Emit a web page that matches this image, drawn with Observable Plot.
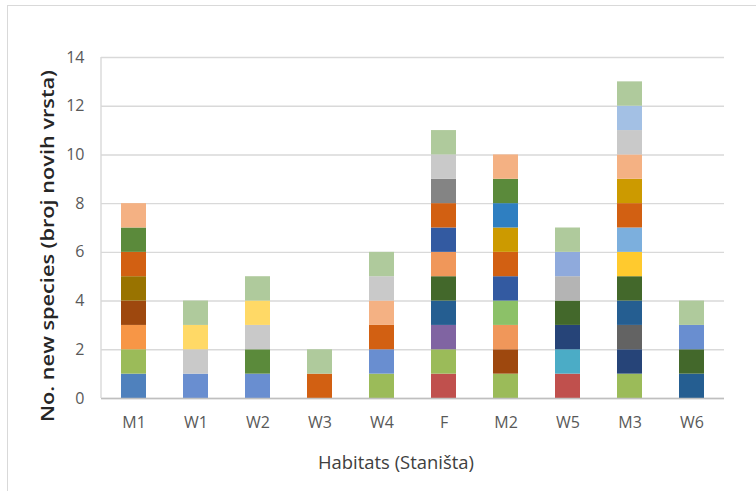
<!DOCTYPE html>
<html>
<head>
<meta charset="utf-8">
<script src="https://cdn.jsdelivr.net/npm/d3@7"></script>
<script src="https://cdn.jsdelivr.net/npm/@observablehq/plot@0.6"></script>
<style>
  html, body { margin: 0; padding: 0; background: #fff; overflow: hidden; }
  #wrap { position: relative; width: 756px; height: 491px; }
  #border { position: absolute; left: 7px; top: 5px; width: 820px; height: 600px; border: 1.5px solid #d9d9d9; box-sizing: border-box; }
  #chart { position: absolute; left: 0; top: 0; }
</style>
</head>
<body>
<div id="wrap"><div id="border"></div><div id="chart"></div></div>
<script>
// Data
const habitats = ["M1", "W1", "W2", "W3", "W4", "F", "M2", "W5", "M3", "W6"];
const newSpecies = [8, 4, 5, 2, 6, 11, 10, 7, 13, 4];
const yTicks = [0, 2, 4, 6, 8, 10, 12, 14];
const xTitle = "Habitats (Staništa)";
const yTitle = "No. new species (broj novih vrsta)";

// Style: segment colours (bottom to top) for each habitat
const segmentColors = [
  ["#4F81BD", "#9BBB59", "#F79646", "#9E480E", "#997300", "#D26012", "#5B8A3B", "#F4B183"],
  ["#698ED0", "#C9C9C9", "#FFD966", "#AFCA9C"],
  ["#698ED0", "#5B8A3B", "#C9C9C9", "#FFD966", "#AFCA9C"],
  ["#D26012", "#AFCA9C"],
  ["#9BBB59", "#698ED0", "#D26012", "#F4B183", "#C9C9C9", "#AFCA9C"],
  ["#C0504D", "#9BBB59", "#8064A2", "#255E91", "#43682B", "#F0975A", "#335AA1", "#D26012", "#848484", "#C9C9C9", "#AFCA9C"],
  ["#9BBB59", "#9E480E", "#F0975A", "#8CC168", "#335AA1", "#D26012", "#CC9A00", "#2F7FC1", "#5B8A3B", "#F4B183"],
  ["#C0504D", "#4BACC6", "#264478", "#43682B", "#B4B4B4", "#8FAADC", "#AFCA9C"],
  ["#9BBB59", "#264478", "#636363", "#255E91", "#43682B", "#FFCA2E", "#7CAFDD", "#D26012", "#CC9A00", "#F4B183", "#C9C9C9", "#A3C0E4", "#AFCA9C"],
  ["#255E91", "#43682B", "#698ED0", "#AFCA9C"]
];

// Each new species is one unit segment
const segments = [];
habitats.forEach((h, i) => {
  for (let k = 0; k < newSpecies[i]; k++) {
    segments.push({habitat: h, value: 1, color: segmentColors[i][k % segmentColors[i].length]});
  }
});

const chart = Plot.plot({
  width: 756,
  height: 491,
  marginLeft: 101,
  marginRight: 32,
  marginTop: 57,
  marginBottom: 93,
  style: {fontFamily: "'Open Sans', sans-serif", fontSize: "15px", color: "#595959", background: "transparent"},
  x: {domain: habitats, paddingInner: 0.6, paddingOuter: 0.3, label: null},
  y: {domain: [0, 14], label: null},
  color: {type: "identity"},
  marks: [
    Plot.gridY(yTicks, {stroke: "#d9d9d9", strokeOpacity: 1, strokeWidth: 1.4}),
    Plot.axisY(yTicks, {tickSize: 0, tickPadding: 17, fill: "#595959", label: null, fontSize: 16}),
    Plot.axisX({tickSize: 0, tickPadding: 18, fill: "#595959", label: null, fontSize: 16}),
    Plot.barY(segments, {x: "habitat", y: "value", fill: "color"}),
    Plot.ruleY([0], {stroke: "#bfbfbf", strokeWidth: 1.5}),
    Plot.text([xTitle], {frameAnchor: "bottom", dx: -17, dy: 70, fontSize: 18, fill: "#404040", className: "xtitle"}),
    Plot.text([yTitle], {frameAnchor: "left", textAnchor: "middle", rotate: -90, dx: -53, dy: 18, fontSize: 18, fontWeight: 600, fill: "#262626", className: "ytitle"})
  ]
});

// left axis line
d3.select(chart).append("line")
  .attr("x1", 101).attr("x2", 101).attr("y1", 57).attr("y2", 398)
  .attr("stroke", "#d9d9d9").attr("stroke-width", 1.4);

// fit title lengths to the reference
d3.select(chart).selectAll(".ytitle text").attr("textLength", 352).attr("lengthAdjust", "spacingAndGlyphs");
d3.select(chart).selectAll(".xtitle text").attr("textLength", 156).attr("lengthAdjust", "spacingAndGlyphs");

document.getElementById("chart").appendChild(chart);
</script>
</body>
</html>
